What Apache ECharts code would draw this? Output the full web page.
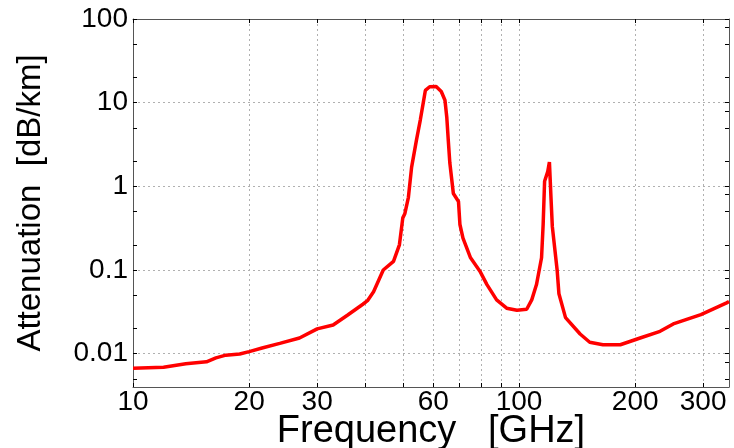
<!DOCTYPE html>
<html>
<head>
<meta charset="utf-8">
<script src="https://cdn.jsdelivr.net/npm/echarts@6/dist/echarts.min.js"></script>
<style>
  html, body { margin: 0; padding: 0; background: #fff; }
  #chart { width: 734px; height: 448px; }
</style>
</head>
<body>
<div id="chart"></div>
<script>
// 频率 [GHz] 与衰减 [dB/km]
const freqGHz = [10, 12, 13.7, 15.5, 16.4, 17.4, 18.9, 20, 21.6, 24, 27, 30, 33, 36, 39.4, 40.5, 42,
  44.5, 47.3, 49, 50, 50.6, 51.7, 52.7, 54.2, 55.5, 56.6, 57.2, 58.7, 61, 62.9, 64.3, 65, 65.6, 66.2,
  67.6, 69.7, 70.3, 71.6, 74.9, 79.2, 82.6, 87.5, 92.9, 98.8, 104.7, 107.9, 111, 114.4, 115.5, 116.5,
  118.7, 119.9, 121, 122, 125.6, 126.9, 132, 144, 152.5, 165, 183, 206, 232, 251, 296, 345, 350];
const attenuation = [0.0067, 0.0069, 0.0076, 0.008, 0.0089, 0.0096, 0.0099, 0.0106, 0.0117, 0.0133, 0.0154, 0.0198, 0.022, 0.029, 0.039, 0.043, 0.055,
  0.1, 0.127, 0.2, 0.42, 0.47, 0.74, 1.7, 3.5, 6.2, 10.5, 14, 15.5, 15.6, 13.6, 10.7, 6.7, 3.5, 1.9,
  0.82, 0.66, 0.35, 0.24, 0.14, 0.097, 0.067, 0.044, 0.035, 0.033, 0.034, 0.044, 0.067, 0.14, 0.35, 1.15,
  1.5, 1.95, 0.75, 0.33, 0.098, 0.052, 0.027, 0.0172, 0.0137, 0.0128, 0.0128, 0.0154, 0.0185, 0.0227, 0.0293, 0.0405, 0.042];

// 刻度
const xLabelValues = [10, 20, 30, 60, 100, 200, 300];
const xTickValues = [10, 20, 30, 40, 50, 60, 70, 80, 90, 100, 200, 300];
const yLabelValues = [0.01, 0.1, 1, 10, 100];
const yTickLeft = [0.005, 0.01, 0.02, 0.05, 0.1, 0.2, 0.5, 1, 2, 5, 10, 20, 50, 100];
const yTickRight = [0.005, 0.008, 0.01, 0.02, 0.05, 0.08, 0.1, 0.2, 0.5, 0.8, 1, 2, 5, 8, 10, 20, 50, 80, 100];

const FONT = "'Liberation Sans', Arial, sans-serif";
const frameLine = { show: true, lineStyle: { color: '#555', width: 1 } };
const gridLine = { show: true, lineStyle: { color: '#b0b0b0', type: [2, 3], width: 1 } };

let chart = echarts.init(document.getElementById('chart'), null, { renderer: 'canvas' });

chart.setOption({
  animation: false,
  backgroundColor: '#fff',
  grid: { left: 133, right: 5, top: 19, bottom: 61, outerBoundsMode: 'none' },
  xAxis: [
    {
      type: 'log', logBase: 10, min: 10, max: 350, position: 'bottom',
      name: 'Frequency   [GHz]', nameLocation: 'middle', nameGap: 26, nameMoveOverlap: false,
      nameTextStyle: { fontFamily: FONT, fontSize: 38, color: '#000' },
      axisLine: frameLine,
      axisTick: { show: true, inside: true, length: 4, customValues: xTickValues, lineStyle: { color: '#000' } },
      axisLabel: {
        customValues: xLabelValues, margin: 1, fontFamily: FONT, fontSize: 28, color: '#000',
        formatter: v => String(Math.round(v))
      },
      splitLine: gridLine
    },
    {
      type: 'log', logBase: 10, min: 10, max: 350, position: 'top',
      axisLine: frameLine,
      axisTick: { show: true, inside: true, length: 4, customValues: xTickValues, lineStyle: { color: '#000' } },
      axisLabel: { show: false },
      splitLine: { show: false }
    }
  ],
  yAxis: [
    {
      type: 'log', logBase: 10, min: 0.004, max: 100, position: 'left',
      name: 'Attenuation  [dB/km]', nameLocation: 'middle', nameGap: 86, nameMoveOverlap: false,
      nameTextStyle: { fontFamily: FONT, fontSize: 33, color: '#000' },
      axisLine: frameLine,
      axisTick: { show: true, inside: true, length: 4, customValues: yTickLeft, lineStyle: { color: '#000' } },
      axisLabel: {
        customValues: yLabelValues, margin: 5, fontFamily: FONT, fontSize: 28, color: '#000',
        formatter: v => String(+v.toPrecision(3))
      },
      splitLine: { show: false }
    },
    {
      type: 'log', logBase: 10, min: 0.004, max: 100, position: 'right',
      axisLine: frameLine,
      axisTick: { show: true, inside: true, length: 4, customValues: yTickRight, lineStyle: { color: '#000' } },
      axisLabel: { show: false },
      splitLine: { show: false }
    },
    {
      // 只用于画十进位网格线
      type: 'log', logBase: 10, min: 0.004, max: 100, position: 'left',
      axisLine: { show: false },
      axisTick: { show: false, customValues: yLabelValues },
      axisLabel: { show: false },
      splitLine: gridLine
    }
  ],
  series: [
    {
      type: 'line',
      xAxisIndex: 0,
      yAxisIndex: 0,
      data: freqGHz.map((f, i) => [f, attenuation[i]]),
      showSymbol: false,
      symbol: 'none',
      lineStyle: { color: '#ff0000', width: 3.5 },
      z: 5
    }
  ]
});
</script>
</body>
</html>
